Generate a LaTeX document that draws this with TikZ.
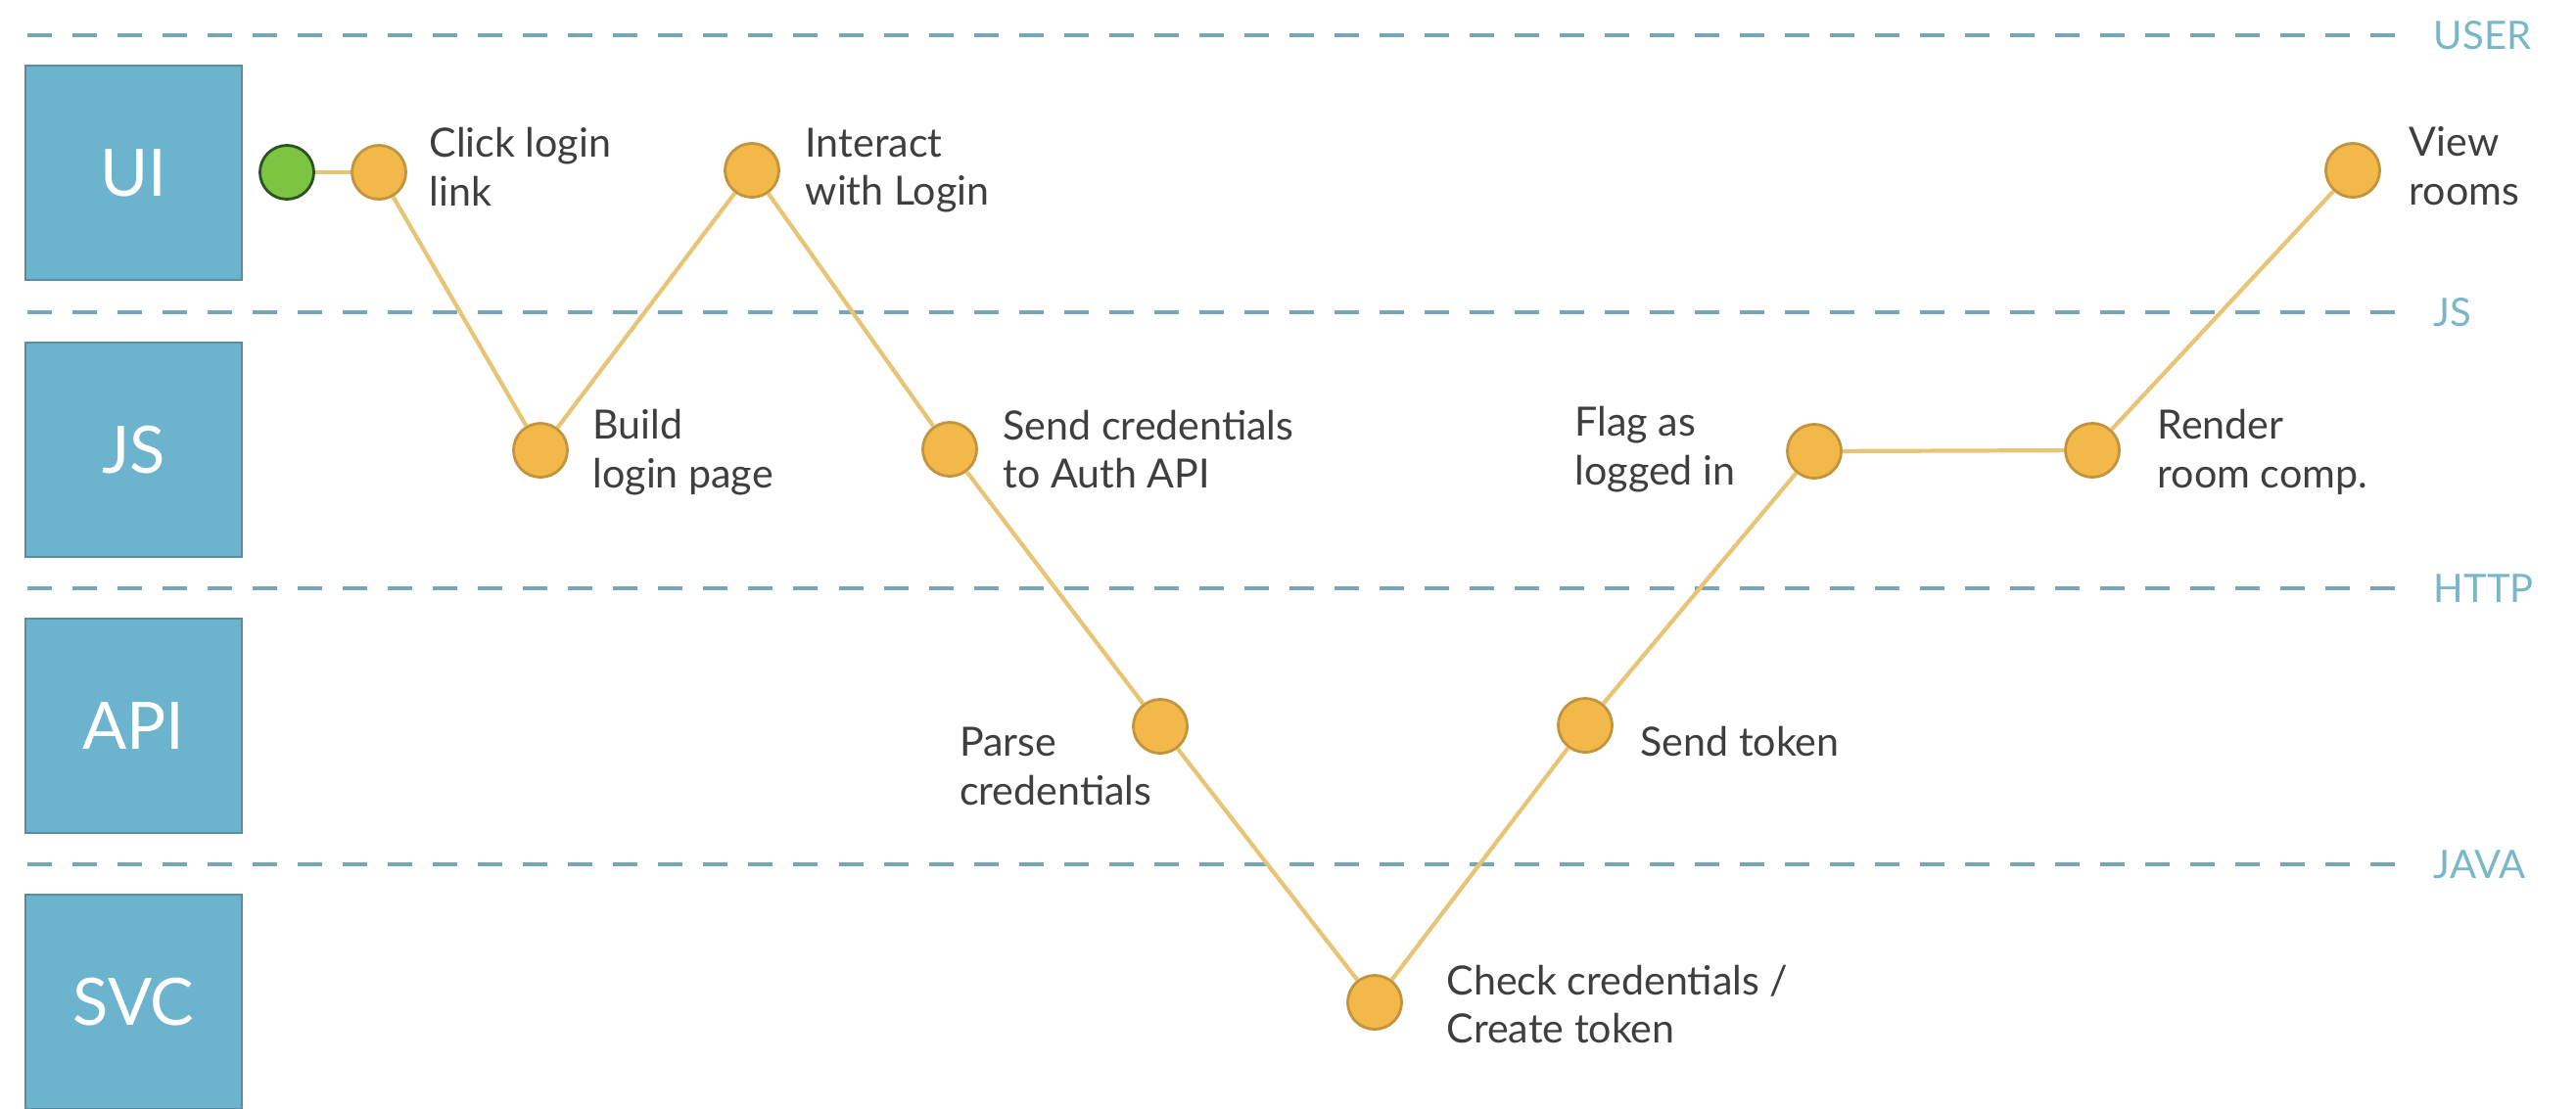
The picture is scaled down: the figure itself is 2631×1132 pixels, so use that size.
\documentclass[tikz,border=0pt]{standalone}
\usepackage{fontspec}
\setmainfont{Lato}
\usepackage{tikz}

\definecolor{lanefill}{RGB}{108,179,205}
\definecolor{lanedraw}{RGB}{88,142,164}
\definecolor{divcol}{RGB}{118,166,186}
\definecolor{divtext}{RGB}{122,182,202}
\definecolor{stepfill}{RGB}{242,184,74}
\definecolor{stepdraw}{RGB}{194,148,62}
\definecolor{startfill}{RGB}{124,196,66}
\definecolor{startdraw}{RGB}{44,84,34}
\definecolor{trailcol}{RGB}{232,197,118}
\definecolor{txtcol}{RGB}{62,62,62}

\begin{document}
\begin{tikzpicture}[x=0.01cm,y=-0.01cm,
	lanebox/.style={shape=rectangle,fill=lanefill,draw=lanedraw,line width=0.6pt,minimum width=2.21cm,minimum height=2.19cm,inner sep=0pt,text=white,font=\fontsize{19}{23}\selectfont},
	divider/.style={draw=divcol,line width=1.3pt,dash pattern=on 0.25cm off 0.21cm},
	divlabel/.style={anchor=west,inner xsep=0.18cm,inner ysep=0pt,text=divtext,font=\fontsize{11.4}{14}\selectfont},
	stepdot/.style={shape=circle,fill=stepfill,draw=stepdraw,line width=0.8pt,minimum size=0.55cm,inner sep=0pt},
	startdot/.style={stepdot,fill=startfill,draw=startdraw},
	lbl/.style={inner sep=0pt,align=left,text=txtcol,font=\fontsize{11.7}{14.2}\selectfont},
	trail/.style={draw=trailcol,line width=1.2pt}]
	\useasboundingbox (0,0) rectangle (2631,1132);

	\node[divlabel] (d1) at (2467,36) {USER};
	\node[divlabel] (d2) at (2467,319) {JS};
	\node[divlabel] (d3) at (2467,601) {HTTP};
	\node[divlabel] (d4) at (2467,883) {JAVA};
	\draw[divider] (28,36) -- (d1);
	\draw[divider] (28,319) -- (d2);
	\draw[divider] (28,601) -- (d3);
	\draw[divider] (28,883) -- (d4);

	\node[lanebox] (ui) at (136.5,176.5) {UI};
	\node[lanebox] (js) at (136.5,459.5) {JS};
	\node[lanebox] (api) at (136.5,741.5) {API};
	\node[lanebox] (svc) at (136.5,1023.5) {SVC};

	\node[startdot] (0) at (293,176) {};
	\node[stepdot] (1) at (387,176) {};
	\node[stepdot] (2) at (552,460) {};
	\node[stepdot] (3) at (768,174) {};
	\node[stepdot] (4) at (970,459) {};
	\node[stepdot] (5) at (1185,742) {};
	\node[stepdot] (6) at (1404,1024) {};
	\node[stepdot] (7) at (1619,741) {};
	\node[stepdot] (8) at (1853,461) {};
	\node[stepdot] (9) at (2137,460) {};
	\node[stepdot] (10) at (2403,174) {};

	\node[lbl,anchor=west] (t1) at (438,170) {Click login\\link};
	\node[lbl,anchor=west] (t2) at (605,462) {Build\\login page};
	\node[lbl,anchor=west] (t3) at (822,174) {Interact\\with Login};
	\node[lbl,anchor=west] (t4) at (1024,459) {Send credentials\\to Auth API};
	\node[lbl,anchor=north east] (t5) at (1177,742) {Parse\\credentials};
	\node[lbl,anchor=west] (t6) at (1477,1026) {Check credentials /\\Create token};
	\node[lbl,anchor=west] (t7) at (1675,757) {Send token};
	\node[lbl,anchor=east] (t8) at (1773,459) {Flag as\\logged in};
	\node[lbl,anchor=west] (t9) at (2203,462) {Render\\room comp.};
	\node[lbl,anchor=west] (t10) at (2460,170) {View\\rooms};

	\path [trail] (0) edge (1);
	\path [trail] (1) edge (2);
	\path [trail] (2) edge (3);
	\path [trail] (3) edge (4);
	\path [trail] (4) edge (5);
	\path [trail] (5) edge (6);
	\path [trail] (6) edge (7);
	\path [trail] (7) edge (8);
	\path [trail] (8) edge (9);
	\path [trail] (9) edge (10);
\end{tikzpicture}
\end{document}
